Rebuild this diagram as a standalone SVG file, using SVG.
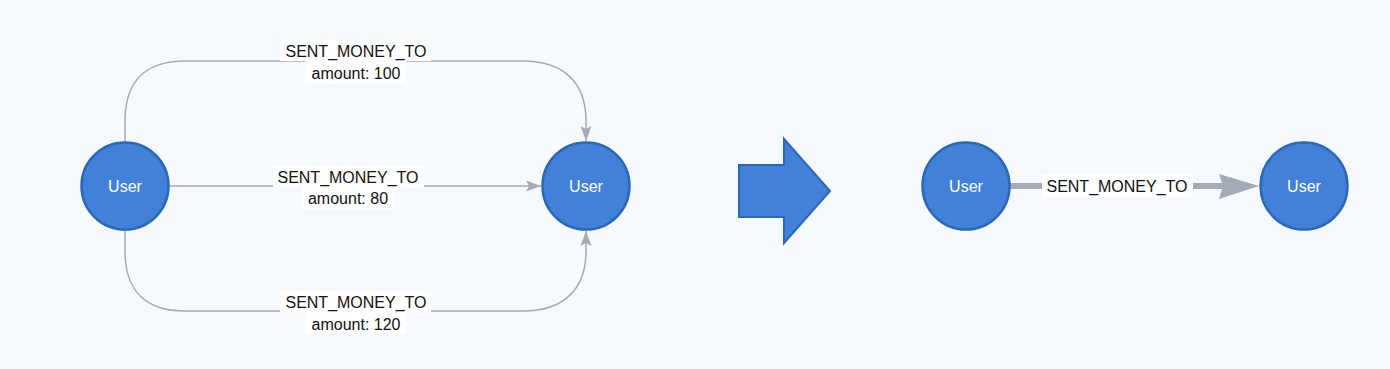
<svg xmlns="http://www.w3.org/2000/svg" width="1390" height="369" viewBox="0 0 1390 369">
<defs>
<style>
.bg{fill:#f6faff}
.node{fill:#4181d7;stroke:#2b68b9;stroke-width:2.5}
.ntext{font-family:"Liberation Sans",Arial,sans-serif;font-size:16px;fill:#ffffff;text-anchor:middle}
.edge{fill:none;stroke:#a5abb6;stroke-width:1.5}
.thick{fill:none;stroke:#a5abb6;stroke-width:6}
.lbg{fill:#ffffff}
.ltext{font-family:"Liberation Sans",Arial,sans-serif;font-size:16px;fill:#111111;text-anchor:middle}
.bigarrow{fill:#4181d7;stroke:#2b68b9;stroke-width:2}
</style>
<marker id="ah" markerUnits="userSpaceOnUse" markerWidth="16" markerHeight="12" refX="15" refY="6" orient="auto">
<path d="M0,0.5 L15,6 L0,11.5 L3,6 Z" fill="#a5abb6"/>
</marker>
</defs>
<rect class="bg" x="0" y="0" width="1390" height="369"/>
<g id="connectors">
<path class="edge" d="M125,143 V121 C125,82 145,61 185,61 H523 C563,61 586,82 586,121 V141" marker-end="url(#ah)"/>
<path class="edge" d="M169,186 H541" marker-end="url(#ah)"/>
<path class="edge" d="M125,230 V251 C125,290 145,311 185,311 H523 C563,311 586,290 586,251 V231" marker-end="url(#ah)"/>
<rect class="lbg" x="280" y="40" width="151" height="21"/>
<rect class="lbg" x="305" y="61" width="101" height="22"/>
<text class="ltext" x="356" y="57">SENT_MONEY_TO</text>
<text class="ltext" x="356" y="79">amount: 100</text>
<rect class="lbg" x="273" y="166" width="151" height="21"/>
<rect class="lbg" x="302" y="187" width="92" height="22"/>
<text class="ltext" x="348" y="183">SENT_MONEY_TO</text>
<text class="ltext" x="348" y="204">amount: 80</text>
<rect class="lbg" x="280" y="291" width="151" height="21"/>
<rect class="lbg" x="305" y="312" width="101" height="22"/>
<text class="ltext" x="356" y="308">SENT_MONEY_TO</text>
<text class="ltext" x="356" y="330">amount: 120</text>
<path class="thick" d="M1010,186 H1224"/>
<polygon points="1219,174 1259,186 1219,199 1223,186" fill="#a5abb6"/>
<rect class="lbg" x="1042" y="174" width="151" height="23"/>
<text class="ltext" x="1117" y="192">SENT_MONEY_TO</text>
</g>
<g id="node-user-a">
<circle class="node" cx="125" cy="186" r="43.5"/>
<text class="ntext" x="125" y="192">User</text>
</g>
<g id="node-user-b">
<circle class="node" cx="586" cy="186" r="43.5"/>
<text class="ntext" x="586" y="192">User</text>
</g>
<g id="transform-arrow">
<polygon class="bigarrow" points="739,165 784,165 784,139 830,191 784,243 784,217 739,217"/>
</g>
<g id="node-user-c">
<circle class="node" cx="966" cy="186" r="43.5"/>
<text class="ntext" x="966" y="192">User</text>
</g>
<g id="node-user-d">
<circle class="node" cx="1304" cy="186" r="43.5"/>
<text class="ntext" x="1304" y="192">User</text>
</g>
</svg>
